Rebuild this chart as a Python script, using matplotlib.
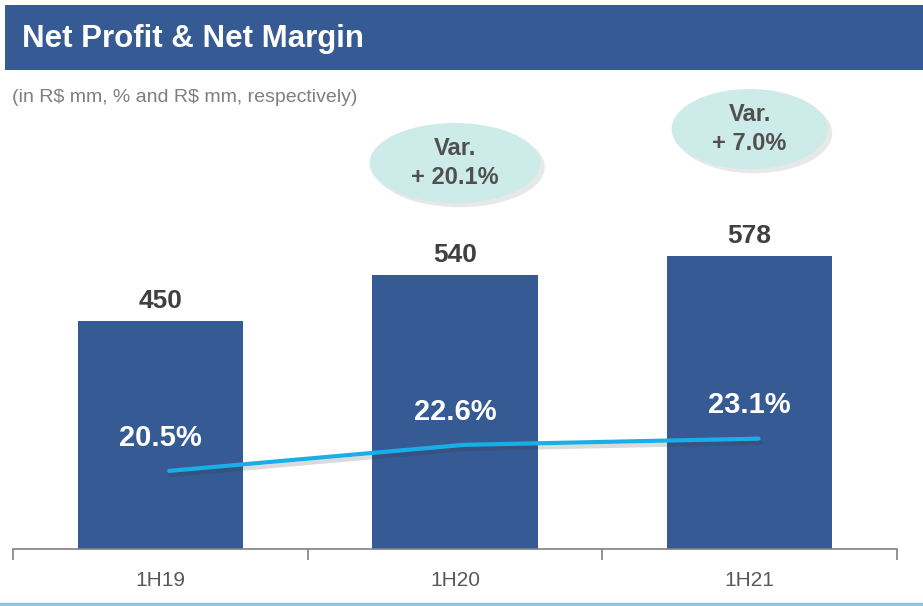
import matplotlib
matplotlib.use("Agg")
import matplotlib.pyplot as plt
import matplotlib.patheffects as pe
from matplotlib.patches import Ellipse, Rectangle
import numpy as np

plt.rcParams["font.family"] = ["Liberation Sans Narrow", "Liberation Sans", "DejaVu Sans"]

periods = ["1H19", "1H20", "1H21"]
net_profit = [450, 540, 578]
net_margin = [20.5, 22.6, 23.1]
variation_labels = ["", "Var.\n+ 20.1%", "Var.\n+ 7.0%"]

BLUE = "#365A93"
LINE = "#1AAEE8"
DARK = "#404040"

fig = plt.figure(figsize=(9.23, 6.06), dpi=100)

# header bar
fig.patches.append(Rectangle((5 / 923, 1 - 70 / 606), 1, 65 / 606, transform=fig.transFigure,
                             facecolor=BLUE, edgecolor="none", zorder=0))
fig.text(22 / 923, 1 - 39 / 606, "Net Profit & Net Margin", color="white", fontsize=22.5,
         fontweight="bold", va="center", ha="left")
fig.text(12 / 923, 1 - 97 / 606, r"(in R\$ mm, % and R\$ mm, respectively)", color="#7F7F7F",
         fontsize=14, va="center", ha="left")
# bottom rule
fig.add_artist(plt.Line2D([0, 1], [2 / 606, 2 / 606], transform=fig.transFigure,
                          color="#8FC3E0", lw=2.5))

ax = fig.add_axes([13 / 923, 57 / 606, 884 / 923, 429 / 606])
x = np.arange(len(periods))
ax.bar(x, net_profit, width=0.56, color=BLUE, zorder=2)
ax.set_xlim(-0.5, 2.5)
ax.set_ylim(0, 846)
for s in ["top", "right", "left"]:
    ax.spines[s].set_visible(False)
ax.spines["bottom"].set_color("#808080")
ax.spines["bottom"].set_linewidth(1.2)
ax.set_yticks([])
ax.set_xticks([-0.5, 0.5, 1.5, 2.5])
ax.set_xticklabels([])
ax.tick_params(axis="x", length=8, color="#808080", width=1.2, direction="out")
ax.set_xticks(x, minor=True)
ax.set_xticklabels(periods, minor=True)
ax.tick_params(axis="x", which="minor", length=0, pad=16, labelsize=15, labelcolor="#595959")

for xi, v in zip(x, net_profit):
    ax.text(xi, v + 16, f"{v}", ha="center", va="bottom", fontsize=19, fontweight="bold", color=DARK)

for xi, v, lab in zip(x, net_profit, variation_labels):
    if not lab:
        continue
    cy = v + 221 if xi == 1 else v + 250
    w = 0.58 if xi == 1 else 0.53
    shadow = Ellipse((xi + 0.015, cy - 8), w, 158, facecolor="#9A9A9A", alpha=0.22,
                     edgecolor="none", clip_on=False, zorder=3)
    ell = Ellipse((xi, cy), w, 158, facecolor="#CDEBE8", edgecolor="none", clip_on=False, zorder=4)
    ax.add_patch(shadow)
    ax.add_patch(ell)
    ax.text(xi, cy, lab, ha="center", va="center", fontsize=17, fontweight="bold",
            color="#505050", linespacing=1.35, zorder=5)

ax2 = ax.twinx()
ax2.set_ylim(14.2, 48.8)
ax2.axis("off")
ax2.plot(x + 0.03, net_margin, color=LINE, lw=3, solid_capstyle="round", zorder=5,
         path_effects=[pe.SimpleLineShadow(offset=(1, -3), shadow_color="#333333", alpha=0.18),
                       pe.Normal()])
for xi, v in zip(x, net_margin):
    ax2.annotate(f"{v:.1f}%", (xi, v), xytext=(0, 24), textcoords="offset points",
                 ha="center", va="center", fontsize=21, fontweight="bold", color="white")

fig.savefig("out.png", dpi=100)
